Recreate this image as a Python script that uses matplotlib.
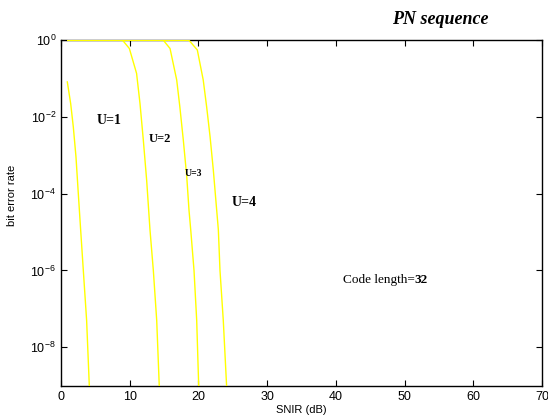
import matplotlib
matplotlib.use('Agg')
import matplotlib.pyplot as plt
from matplotlib.ticker import FixedLocator, NullLocator

plt.rcParams['font.family'] = 'Liberation Sans'
plt.rcParams['mathtext.default'] = 'regular'

# BER curves (SNIR in dB)
snir_u1 = [0.92, 1.41, 1.79, 2.18, 2.52, 2.86, 3.25, 3.73, 4.12]
ber_u1 = [8.1e-2, 2.2e-2, 5.5e-3, 9.1e-4, 1.0e-4, 1.15e-5, 1.0e-6, 5.0e-8, 1.0e-9]

snir_u2 = [1.0, 8.97, 9.95, 11.0, 11.5, 11.98, 12.47, 12.95, 13.44, 13.93, 14.3]
ber_u2 = [0.98, 0.98, 0.6, 0.135, 2.2e-2, 2.5e-3, 2.2e-4, 1.15e-5, 1.0e-6, 5.0e-8, 1.0e-9]

snir_u3 = [1.0, 14.9, 15.87, 16.84, 17.3, 17.8, 18.3, 18.63, 18.88, 19.36, 19.75, 20.04]
ber_u3 = [0.98, 0.98, 0.6, 9.1e-2, 1.8e-2, 2.5e-3, 2.8e-4, 3.7e-5, 1.15e-5, 1.0e-6, 5.0e-8, 1.0e-9]

snir_u4 = [1.0, 18.63, 19.84, 20.7, 21.2, 21.7, 22.17, 22.66, 22.9, 23.14, 23.62, 24.1]
ber_u4 = [0.98, 0.98, 0.55, 9.1e-2, 1.8e-2, 3.0e-3, 4.1e-4, 3.7e-5, 1.15e-5, 1.0e-6, 5.0e-8, 1.0e-9]

xticks = [0, 10, 20, 30, 40, 50, 60, 70]
yticks = [1e-8, 1e-6, 1e-4, 1e-2, 1e0]
ytick_labels = ['$10^{-8}$', '$10^{-6}$', '$10^{-4}$', '$10^{-2}$', '$10^{0}$']

fig = plt.figure(figsize=(5.48, 4.2), dpi=100)
ax = fig.add_axes([0.1113, 0.0817, 0.8777, 0.8231])

for x, y in [(snir_u1, ber_u1), (snir_u2, ber_u2), (snir_u3, ber_u3), (snir_u4, ber_u4)]:
    ax.semilogy(x, y, color='#ffff00', lw=1.0, zorder=3)

ax.set_xlim(0, 70)
ax.set_ylim(1e-9, 1)
ax.set_xticks(xticks)
ax.yaxis.set_major_locator(FixedLocator(yticks))
ax.yaxis.set_minor_locator(NullLocator())
ax.set_yticklabels(ytick_labels)
ax.tick_params(direction='in', top=True, right=True, labelsize=9, length=4, width=0.8)
for s in ax.spines.values():
    s.set_linewidth(1.0)
    s.set_zorder(2)

ax.set_xlabel('SNIR (dB)', fontsize=8, labelpad=2)
ax.set_ylabel('bit error rate', fontsize=8)
ax.yaxis.set_label_coords(-0.092, 0.55)

serif = 'Liberation Serif'
ax.text(7.0, 10**-2.09, 'U=1', family=serif, weight='bold', fontsize=10, ha='center', va='center')
ax.text(14.4, 10**-2.58, 'U=2', family=serif, weight='bold', fontsize=9, ha='center', va='center')
ax.text(19.3, 10**-3.48, 'U=3', family=serif, weight='bold', fontsize=7, ha='center', va='center')
ax.text(26.7, 10**-4.23, 'U=4', family=serif, weight='bold', fontsize=10, ha='center', va='center')

t = ax.text(41.0, 10**-6.26, 'Code length=', family=serif, fontsize=9.5, ha='left', va='center')
ax.annotate('32', xy=(1, 0.5), xycoords=t, family=serif, weight='bold', fontsize=9.5,
            ha='left', va='center')

fig.text(440/548, 1 - 20/420, 'PN sequence', family=serif, weight='bold', style='italic',
         fontsize=13, ha='center', va='center')

fig.savefig('out.png', dpi=100)
